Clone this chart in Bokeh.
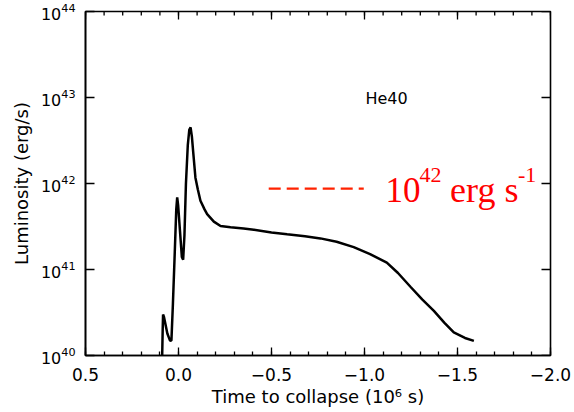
import math
from bokeh.plotting import figure
from bokeh.models import Range1d, FixedTicker, Label, ColumnDataSource
from bokeh.embed import file_html
from bokeh.resources import INLINE

# ---- data ----
time_to_collapse = [0.12, 0.088, 0.085, 0.083, 0.078, 0.06, 0.045, 0.038, 0.03, 0.02,
                    0.012, 0.007, 0.002, -0.008, -0.018, -0.025, -0.032, -0.040, -0.050, -0.058,
                    -0.065, -0.072, -0.080, -0.091, -0.104, -0.118, -0.14, -0.154, -0.19, -0.226,
                    -0.28, -0.35, -0.405, -0.5, -0.584, -0.68, -0.763, -0.85, -0.942, -1.03,
                    -1.12, -1.18, -1.247, -1.31, -1.373, -1.43, -1.48, -1.54, -1.588]
luminosity = [7.9e39, 9.3e39, 2.0e40, 3.0e40, 2.8e40, 1.8e40, 1.48e40, 1.5e40, 4.0e40, 1.6e41,
              5.0e41, 6.9e41, 5.6e41, 2.8e41, 1.4e41, 1.3e41, 2.5e41, 1.0e42, 2.8e42, 4.2e42,
              4.5e42, 3.5e42, 2.2e42, 1.17e42, 8.5e41, 6.3e41, 5.0e41, 4.4e41, 3.6e41, 3.2e41,
              3.1e41, 3.0e41, 2.9e41, 2.7e41, 2.57e41, 2.43e41, 2.3e41, 2.1e41, 1.82e41, 1.51e41,
              1.2e41, 9.1e40, 6.3e40, 4.5e40, 3.3e40, 2.4e40, 1.86e40, 1.6e40, 1.48e40]

ref_x = [-0.485, -0.996]
ref_y = [8.7e41, 8.7e41]

x_ticks = [0.5, 0.0, -0.5, -1.0, -1.5, -2.0]
x_tick_labels = ["0.5", "0.0", "\u22120.5", "\u22121.0", "\u22121.5", "\u22122.0"]
x_minor = [round(0.5 - 0.1 * i, 1) for i in range(26)]
y_ticks = [1e40, 1e41, 1e42, 1e43, 1e44]

model_name = "He40"
x_title = "Time to collapse (10\u2076 s)"
y_title = "Luminosity (erg/s)"
ref_label = ["10", "42", "erg s", "-1"]

X_LO, X_HI = 0.5, -2.0
Y_LO, Y_HI = 1e40, 1e44
AX_FONT = "DejaVu Sans"

p = figure(width=574, height=412, x_range=Range1d(X_LO, X_HI), y_range=Range1d(Y_LO, Y_HI),
           y_axis_type="log", output_backend="svg", toolbar_location=None,
           min_border_left=85, min_border_right=24, min_border_top=11, min_border_bottom=57)
p.grid.visible = False
p.outline_line_color = "black"
p.outline_line_width = 1.6
p.background_fill_color = "white"
p.border_fill_color = "white"

xa = p.xaxis[0]
xa.ticker = FixedTicker(ticks=x_ticks, minor_ticks=x_minor)
xa.major_label_overrides = {t: l for t, l in zip(x_ticks, x_tick_labels)}
xa.major_tick_in = 8
xa.major_tick_out = 0
xa.minor_tick_in = 4
xa.minor_tick_out = 0
xa.axis_line_width = 1.6
xa.major_tick_line_width = 1.3
xa.minor_tick_line_width = 1.3
xa.major_label_text_font = AX_FONT
xa.major_label_text_font_size = "17px"
xa.major_label_text_color = "black"
xa.major_label_standoff = 12
xa.axis_label = x_title
xa.axis_label_text_font = AX_FONT
xa.axis_label_text_font_size = "18px"
xa.axis_label_text_font_style = "normal"
xa.axis_label_text_color = "black"
xa.axis_label_standoff = 2

ya = p.yaxis[0]
ya.major_tick_in = 9
ya.major_tick_out = 0
ya.minor_tick_line_color = None
ya.axis_line_width = 1.6
ya.major_tick_line_width = 1.3
ya.major_label_text_font = AX_FONT
ya.major_label_text_font_size = "16px"
ya.major_label_text_color = "black"
ya.major_label_standoff = 6
ya.axis_label = y_title
ya.axis_label_text_font = AX_FONT
ya.axis_label_text_font_size = "18px"
ya.axis_label_text_font_style = "normal"
ya.axis_label_text_color = "black"
ya.axis_label_standoff = 6

# mirrored inward ticks on the top and right frame edges
p.ray(x=x_ticks, y=[Y_HI] * len(x_ticks), length=8, angle=-math.pi / 2,
      length_units="screen", line_color="black", line_width=1.3)
p.ray(x=x_minor, y=[Y_HI] * len(x_minor), length=4, angle=-math.pi / 2,
      length_units="screen", line_color="black", line_width=1.3)
p.ray(x=[X_HI] * len(y_ticks), y=y_ticks, length=9, angle=math.pi,
      length_units="screen", line_color="black", line_width=1.3)

src = ColumnDataSource(dict(x=time_to_collapse, y=luminosity))
p.line("x", "y", source=src, line_color="black", line_width=2.5)

p.line(ref_x, ref_y, line_color="#ff2200", line_width=2.2, line_dash="12 6")

p.add_layout(Label(x=-1.005, y=9.8e42, text=model_name, text_font=AX_FONT,
                   text_font_size="16px", text_color="black", text_baseline="alphabetic"))

# red annotation 10^42 erg s^-1
SERIF = "Liberation Serif"
p.add_layout(Label(x=-1.113, y=8.3e41, text=ref_label[0], text_font=SERIF,
                   text_font_size="35px", text_color="red", text_baseline="alphabetic"))
p.add_layout(Label(x=-1.296, y=1.27e42, text=ref_label[1], text_font=SERIF,
                   text_font_size="22px", text_color="red", text_baseline="alphabetic"))
p.add_layout(Label(x=-1.460, y=8.3e41, text=ref_label[2], text_font=SERIF,
                   text_font_size="36px", text_color="red", text_baseline="alphabetic"))
p.add_layout(Label(x=-1.825, y=1.27e42, text=ref_label[3], text_font=SERIF,
                   text_font_size="22px", text_color="red", text_baseline="alphabetic"))

open("out.html", "w").write(file_html(p, INLINE))
